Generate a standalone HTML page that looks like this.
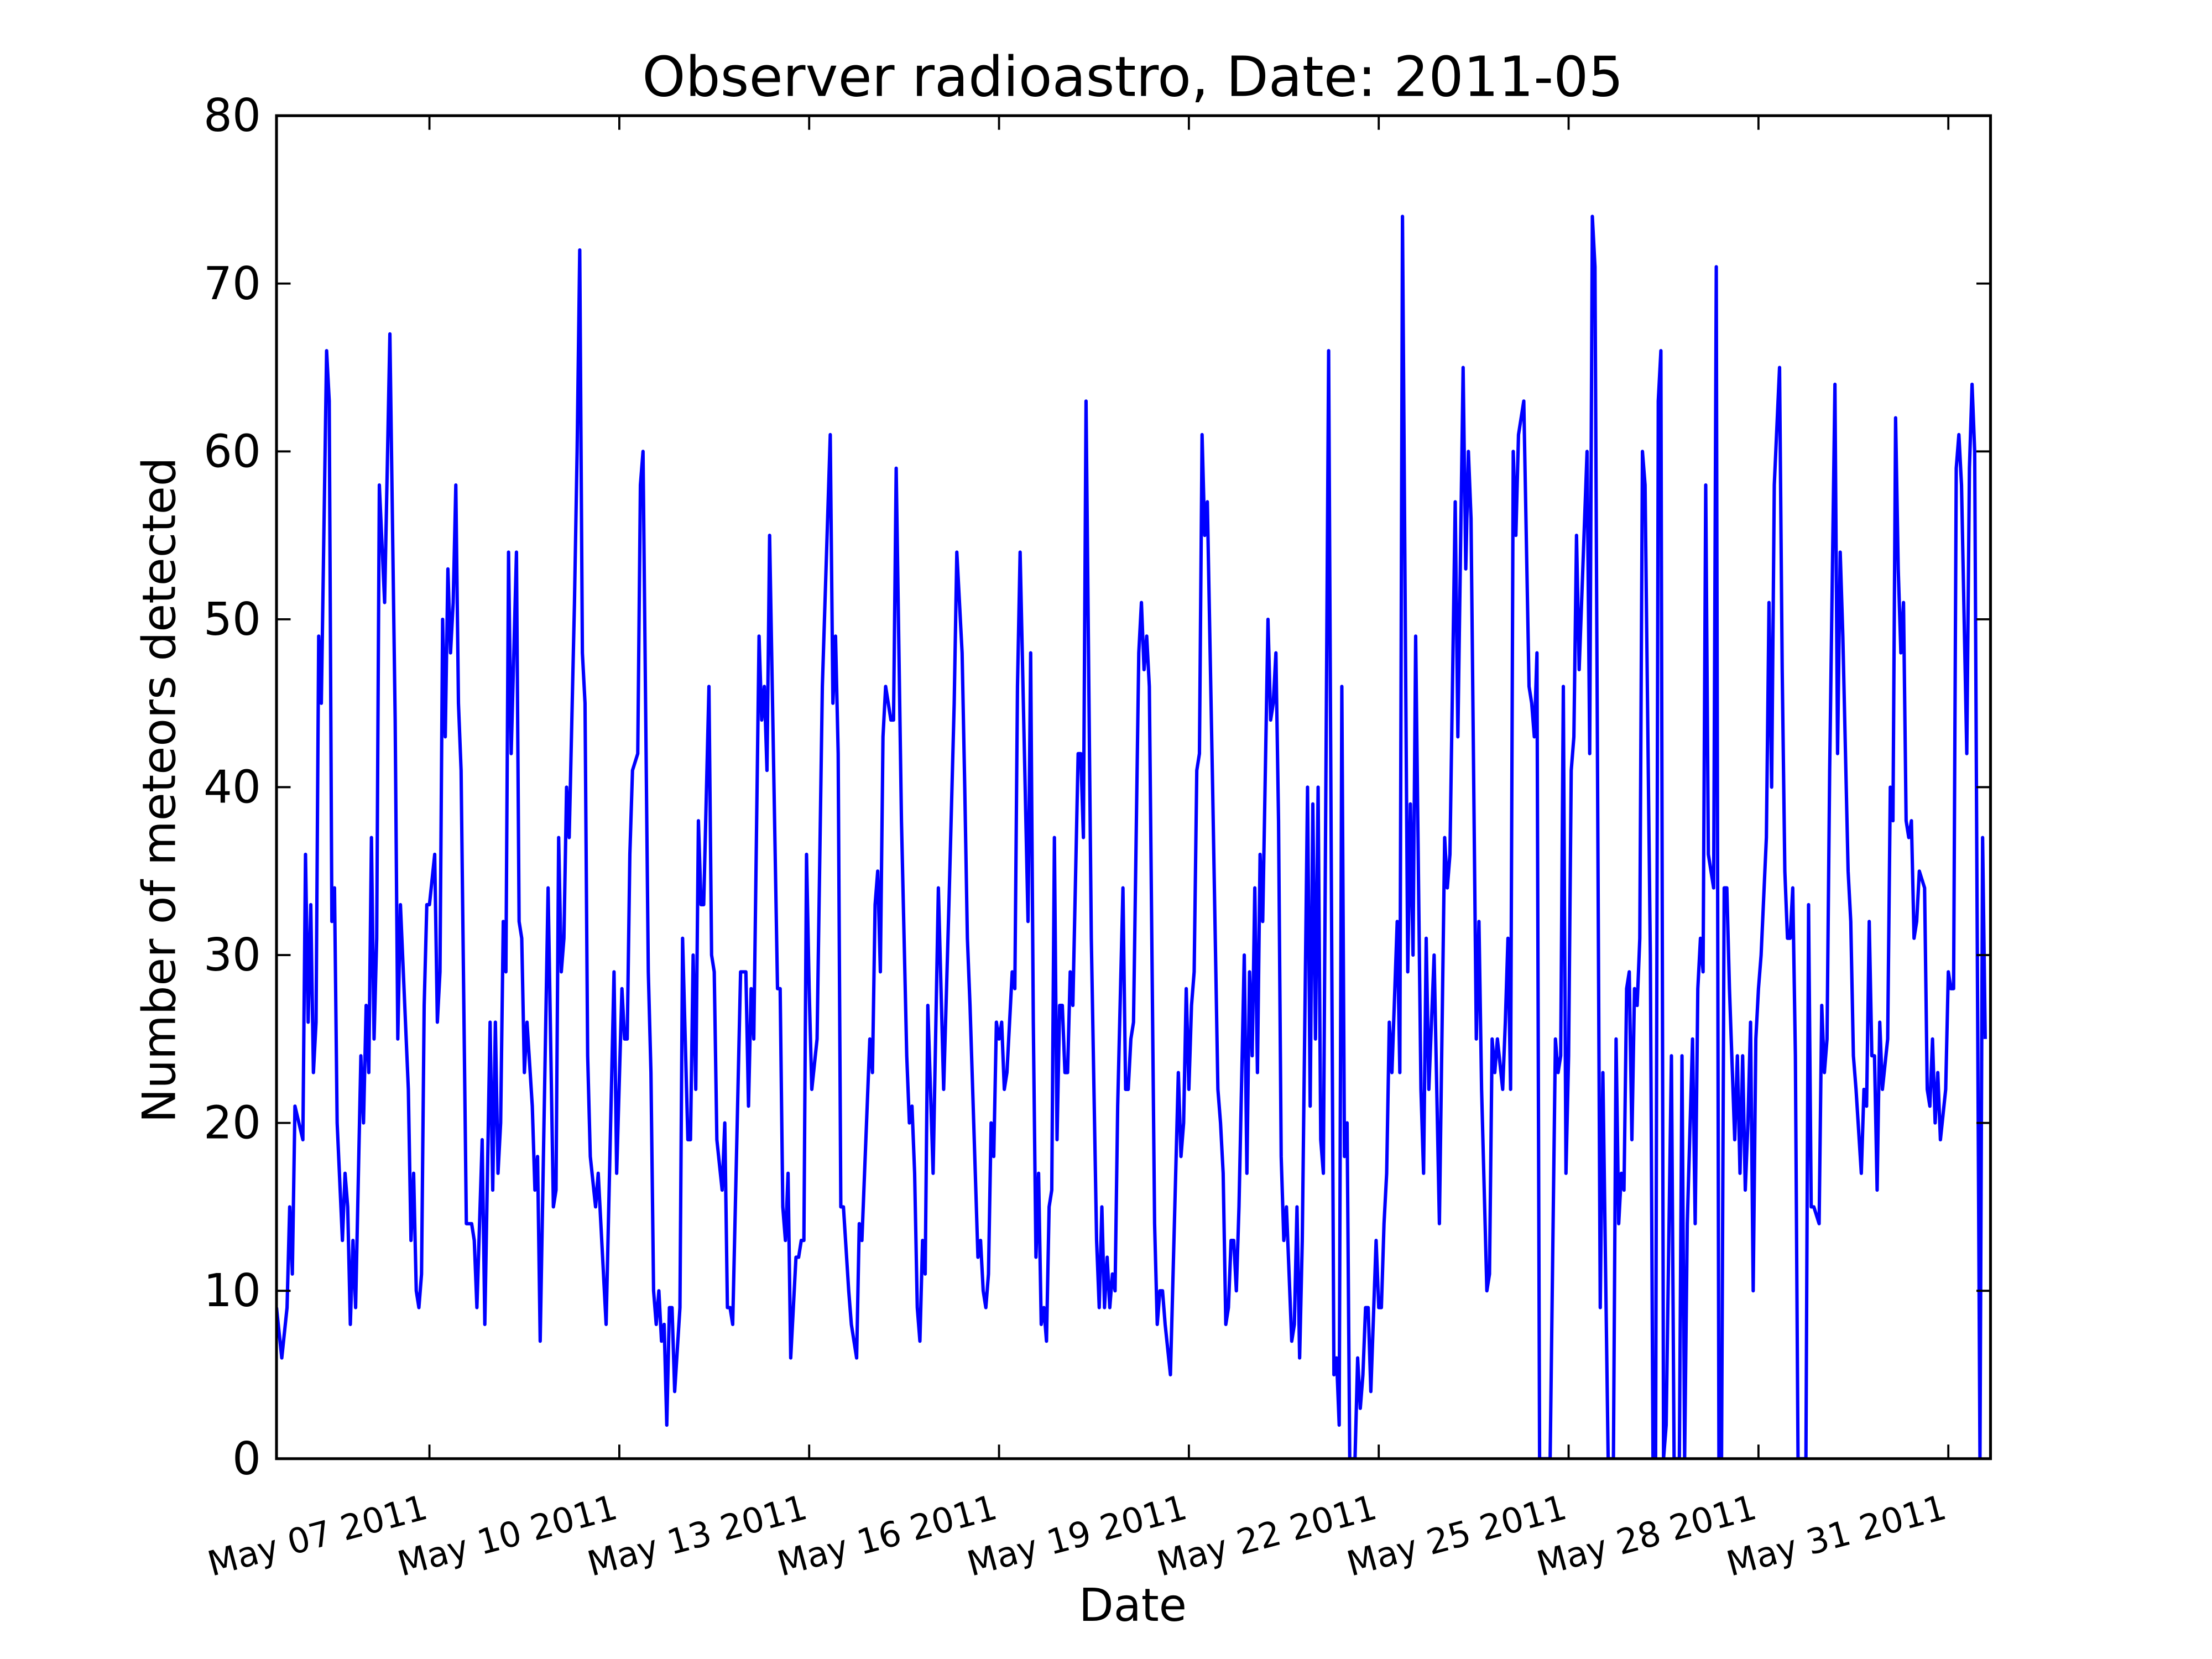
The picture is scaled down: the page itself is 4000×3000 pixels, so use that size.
<!DOCTYPE html>
<html><head><meta charset="utf-8"><style>html,body{margin:0;padding:0;background:#fff}svg{display:block}</style></head>
<body>
<svg id="chart" xmlns="http://www.w3.org/2000/svg" width="4000" height="3000" viewBox="0 0 1568 1176" font-family="'DejaVu Sans','Liberation Sans',sans-serif">
<rect width="1568" height="1176" fill="#fff"/>
<text x="803" y="68" font-size="39" text-anchor="middle">Observer radioastro, Date: 2011-05</text>
<text x="803" y="1149" font-size="32" text-anchor="middle">Date</text>
<text transform="translate(124,560) rotate(-90)" font-size="32.5" text-anchor="middle">Number of meteors detected</text>
<g id="plot"></g>
</svg>
<script>
// hours since 2011-05-04 14:00
const hours=[0,2,4,5,6,7,10,11,12,13,14,15,16,17,19,20,21,22,23,25,26,27,28,29,30,32,33,34,35,36,37,38,39,41,43,45,46,47,50,51,52,53,54,55,56,57,58,60,61,62,63,64,65,66,67,68,69,70,72,74,75,76,78,79,81,82,83,84,85,86,87,88,89,91,92,93,94,95,97,98,99,100,103,105,106,107,108,109,110,111,113,114,115,116,117,118,119,121,122,123,125,128,129,131,132,133,134,135,137,138,139,141,142,143,144,145,146,147,148,149,150,151,153,154,156,157,158,159,160,161,162,164,165,166,167,169,170,171,172,173,174,176,178,179,180,181,183,184,185,186,187,190,191,192,193,194,195,197,198,199,200,201,202,203,205,207,210,211,212,213,214,215,217,218,220,221,222,225,226,227,228,229,230,231,233,234,235,237,239,240,241,242,243,244,245,246,247,249,251,253,255,257,258,260,261,262,263,265,266,267,268,269,270,271,272,273,274,275,276,277,279,280,281,282,285,286,287,288,289,290,291,292,293,294,295,296,297,298,299,300,301,302,304,305,306,307,309,311,312,313,314,315,316,317,318,319,321,322,323,324,325,327,328,329,330,331,333,334,335,336,337,339,342,343,344,345,346,347,348,349,350,351,352,353,355,357,358,359,360,361,362,363,364,365,367,368,369,370,371,372,373,374,376,377,378,379,380,381,382,383,385,386,387,388,389,391,392,393,394,395,396,397,399,401,402,403,404,405,406,407,409,410,411,412,413,414,415,417,418,419,420,421,422,423,425,426,427,429,430,431,432,434,435,436,437,439,441,443,444,445,447,448,450,451,452,453,455,456,457,459,460,461,462,463,465,466,467,468,469,470,471,473,475,476,477,478,479,483,485,486,487,488,489,490,491,492,493,494,497,498,499,500,502,503,505,507,508,509,510,511,512,513,514,515,516,517,518,519,521,522,523,524,525,526,527,529,530,532,533,534,535,537,538,539,540,541,542,543,545,546,547,548,549,550,551,553,554,555,556,557,558,559,560,561,562,563,565,566,567,568,570,571,572,573,574,575,576,577,580,581,582,583,585,586,587,588,589,591,592,593,594,596,597,598,599,601,602,603,604,605,606,607,608,609,611,612,613,614,615,616,617,618,619,620,621,622,623,625,626,627,628,629,630,631,633,634,635,636,637,638,639,641,642,643,644,645,646,647,648];
const counts=[9,6,9,15,11,21,19,36,26,33,23,26,49,45,66,63,32,34,20,13,17,15,8,13,9,24,20,27,23,37,25,31,58,51,67,44,25,33,22,13,17,10,9,11,27,33,33,36,26,29,50,43,53,48,51,58,45,41,14,14,13,9,19,8,26,16,26,17,20,32,29,54,42,54,32,31,23,26,21,16,18,7,34,15,16,37,29,31,40,37,51,60,72,48,45,24,18,15,17,14,8,29,17,28,25,25,36,41,42,58,60,29,23,10,8,10,7,8,2,9,9,4,9,31,19,19,30,22,38,33,33,46,30,29,19,16,20,9,9,8,15,29,29,21,28,25,49,44,46,41,55,28,28,15,13,17,6,12,12,13,13,36,28,22,25,46,61,45,49,42,15,15,10,8,6,14,13,25,23,33,35,29,43,46,44,44,59,38,24,20,21,17,9,7,13,11,27,17,34,22,33,45,54,48,40,31,27,17,12,13,10,9,11,20,18,26,25,26,22,23,29,28,46,54,32,48,26,12,17,8,9,7,15,16,37,19,27,27,23,23,29,27,42,42,37,63,31,13,9,15,9,12,9,11,10,21,34,22,22,25,26,48,51,47,49,46,14,8,10,10,8,5,23,18,20,28,22,27,29,41,42,61,55,57,40,22,20,17,8,9,13,13,10,15,30,17,29,24,34,23,36,32,50,44,45,48,38,18,13,15,7,8,15,6,13,40,21,39,25,40,19,17,66,5,6,2,46,18,20,0,0,6,3,5,9,9,4,13,9,9,14,17,26,23,32,23,74,29,39,30,49,22,17,31,22,30,14,37,34,36,57,43,65,53,60,56,25,32,22,10,11,25,23,25,22,26,31,22,60,55,61,63,46,45,43,48,0,0,25,23,24,46,17,24,41,43,55,47,60,42,74,71,9,23,0,0,25,14,17,16,28,29,19,28,27,31,60,58,30,0,0,63,66,0,2,24,0,0,24,0,14,25,14,28,31,29,58,36,34,71,0,0,34,34,28,19,24,17,24,16,20,26,10,25,28,30,37,51,40,58,65,47,35,31,31,34,24,0,0,33,15,15,14,27,23,25,41,64,42,54,49,35,32,24,22,17,22,21,32,24,24,16,26,22,25,40,38,62,53,48,51,38,37,38,31,32,35,34,22,21,25,20,23,19,22,29,28,28,59,61,58,42,59,64,60,30,0,37,25];
const xTickLabels=['May 07 2011','May 10 2011','May 13 2011','May 16 2011','May 19 2011','May 22 2011','May 25 2011','May 28 2011','May 31 2011'];
const xTickHours=[58,130,202,274,346,418,490,562,634];
const yTicks=[0,10,20,30,40,50,60,70,80];

const L=196,R=1411,T=82,B=1034,HMAX=650,YMAX=80;
const xs=h=>L+(R-L)*h/HMAX;
const ys=v=>B-(B-T)*v/YMAX;
const NS='http://www.w3.org/2000/svg';
const g=document.getElementById('plot');
function mk(tag,attrs){const e=document.createElementNS(NS,tag);for(const k in attrs)e.setAttribute(k,attrs[k]);return e;}

const defs=mk('defs',{});const cp=mk('clipPath',{id:'clip'});cp.appendChild(mk('rect',{x:L,y:T,width:R-L,height:B-T}));defs.appendChild(cp);g.appendChild(defs);

let d='';hours.forEach((h,i)=>{d+=(i?'L':'M')+xs(h).toFixed(2)+' '+ys(counts[i]).toFixed(2);});
const line=mk('path',{d:d,fill:'none',stroke:'#0000ff','stroke-width':2.4,'stroke-linejoin':'round','clip-path':'url(#clip)'});


g.appendChild(line);

const frame=mk('rect',{x:L,y:T,width:R-L,height:B-T,fill:'none',stroke:'#000','stroke-width':2});


g.appendChild(frame);

yTicks.forEach(v=>{
  const y=ys(v);
  g.appendChild(mk('line',{x1:L,x2:L+10,y1:y,y2:y,stroke:'#000','stroke-width':1.5}));
  g.appendChild(mk('line',{x1:R,x2:R-10,y1:y,y2:y,stroke:'#000','stroke-width':1.5}));
  const t=mk('text',{x:L-11,y:y+11,'font-size':32,'text-anchor':'end'});
  
  
  t.textContent=v;g.appendChild(t);
});
xTickHours.forEach((h,i)=>{
  const x=xs(h);
  g.appendChild(mk('line',{x1:x,x2:x,y1:B,y2:B-10,stroke:'#000','stroke-width':1.5}));
  g.appendChild(mk('line',{x1:x,x2:x,y1:T,y2:T+10,stroke:'#000','stroke-width':1.5}));
  const t=mk('text',{transform:`translate(${x},${B+42}) rotate(-15)`,'font-size':24.5,'text-anchor':'end'});
  
  
  t.textContent=xTickLabels[i];g.appendChild(t);
});
</script>
</body></html>
